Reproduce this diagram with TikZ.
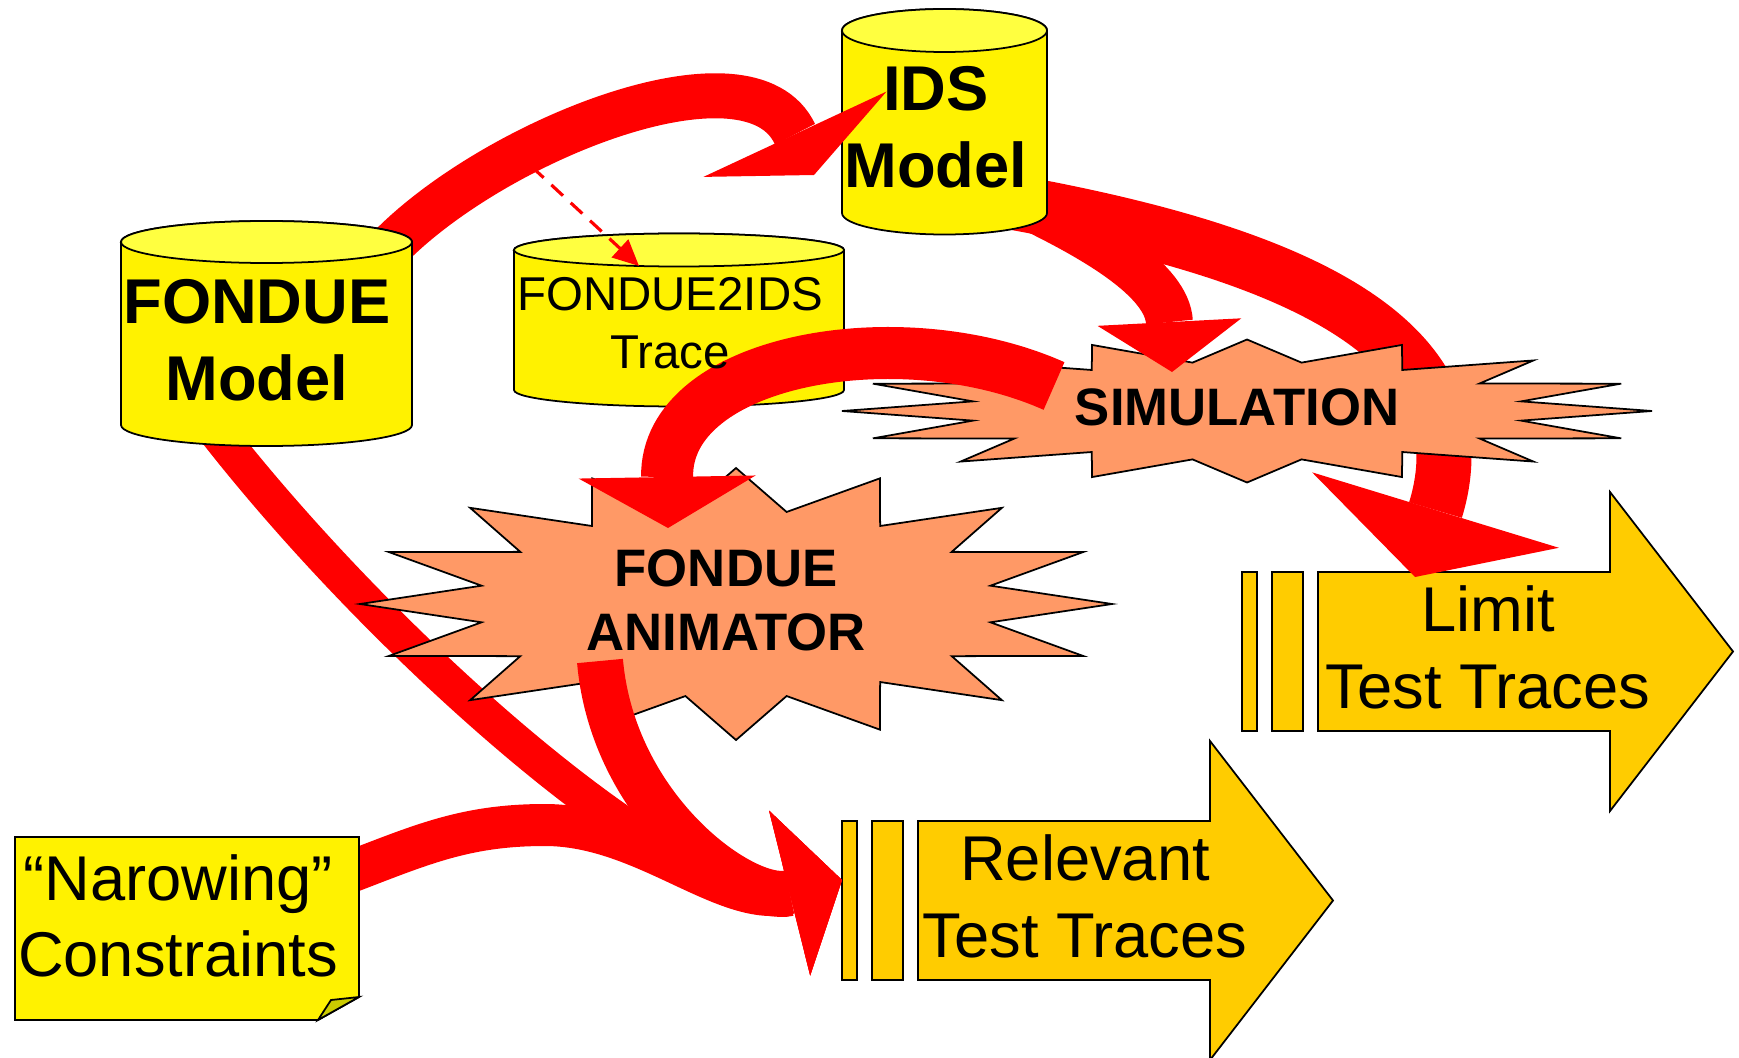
\documentclass[tikz,border=0pt]{standalone}
\usepackage{fontspec}
\setmainfont{Liberation Sans}
\usetikzlibrary{arrows.meta}

\definecolor{burst}{HTML}{FF9966}
\definecolor{tracegold}{HTML}{FFCC00}
\definecolor{drumtop}{HTML}{FFFF40}
\definecolor{notefold}{HTML}{CCCC00}

\tikzset{
  outline/.style={draw=black, line width=0.5pt},
  drum/.style={outline, fill=yellow},
  drumlid/.style={outline, fill=drumtop},
  burstshape/.style={outline, fill=burst},
  tracearrow/.style={outline, fill=tracegold},
  flow/.style={draw=red, line width=#1},
  modeltext/.style={align=center, inner sep=0pt, font=\fontsize{18pt}{22pt}\selectfont\bfseries},
  bursttext/.style={align=center, inner sep=0pt, font=\fontsize{15pt}{18.2pt}\selectfont\bfseries},
  tracetext/.style={align=center, inner sep=0pt, font=\fontsize{13.5pt}{16.5pt}\selectfont},
  plaintext/.style={align=center, inner sep=0pt, font=\fontsize{18pt}{21.8pt}\selectfont},
}

% drum: centre x, top y, bottom y, x radius, y radius
\newcommand{\dbdrum}[5]{%
  \draw[drum] ({#1-#4},#2) -- ({#1-#4},#3) arc[start angle=180, end angle=360, x radius=#4cm, y radius=#5cm]
    -- ({#1+#4},#2) arc[start angle=0, end angle=180, x radius=#4cm, y radius=#5cm] -- cycle;
  \draw[drumlid] (#1,#2) ellipse[x radius=#4cm, y radius=#5cm];
}
% 16 point burst: centre, x radius, y radius
\newcommand{\burstat}[3]{%
  \draw[burstshape, shift={#1}, xscale=#2, yscale=#3] (0:1)
    \foreach \k in {0,...,15} { -- ({22.5*\k+11.25}:0.69) -- ({22.5*\k+22.5}:1) } -- cycle;
}

\begin{document}
\begin{tikzpicture}
    \useasboundingbox (0,0) rectangle (17.39,-10.57);

    % connector ends
    \coordinate (fondueT) at (3.92,-2.45);
    \coordinate (fondueB) at (2.15,-4.30);
    \coordinate (idsIn) at (8.14,-1.75);
    \coordinate (idsR) at (10.0,-2.0);
    \coordinate (idsB) at (10.15,-2.0);
    \coordinate (simIn) at (11.72,-3.72);
    \coordinate (simL) at (10.54,-3.86);
    \coordinate (animIn) at (6.68,-5.28);
    \coordinate (animB) at (6.00,-6.61);
    \coordinate (limitIn) at (14.15,-5.77);
    \coordinate (narrowR) at (3.50,-8.72);
    \coordinate (narrowTop) at (5.45,-8.25);
    \coordinate (relIn) at (8.42,-8.80);
    \coordinate (dashFrom) at (5.32,-1.67);
    \coordinate (traceIn) at (6.39,-2.66);

    % test trace arrows
    \foreach \ox/\oy in {12.42/-5.72, 8.42/-8.21} {
        \draw[tracearrow] (\ox,\oy) rectangle ++(0.15,-1.59);
        \draw[tracearrow] ({\ox+0.30},\oy) rectangle ++(0.31,-1.59);
        \draw[tracearrow] ({\ox+0.76},\oy) -- ++(2.92,0) -- ++(0,0.80) -- ++(1.23,-1.595)
            -- ++(-1.23,-1.595) -- ++(0,0.80) -- ++(-2.92,0) -- cycle;
    }

    % flows under the bursts
    \draw[flow=0.55cm, -{Triangle[length=0.7cm, width=2.58cm, line width=0pt]}]
        (idsR) to[out=-10, in=73, looseness=1.2] (limitIn);
    \draw[flow=0.36cm, -{Triangle[length=0.54cm, width=1.7cm, line width=0pt]}]
        (fondueB) to[out=-52, in=194, out distance=3cm, in distance=1.5cm] (relIn);

    \burstat{(12.47,-4.11)}{4.05}{0.715}
    \burstat{(7.36,-6.04)}{3.76}{1.36}

    \draw[flow=0.47cm, -{Triangle[length=0.5cm, width=1.44cm, line width=0pt]}]
        (idsB) to[out=-25, in=93] (simIn);

    % data stores
    \dbdrum{9.445}{-0.305}{-2.13}{1.025}{0.215}
    \draw[flow=0.45cm, -{Triangle[length=0.45cm, width=2.02cm, line width=0pt]}]
        (fondueT) to[out=45, in=115, looseness=0.9] (idsIn);
    \dbdrum{2.665}{-2.42}{-4.25}{1.455}{0.21}
    \dbdrum{6.79}{-2.50}{-3.90}{1.65}{0.165}

    % flows over the bursts
    \draw[flow=0.52cm, -{Triangle[length=0.51cm, width=1.77cm, line width=0pt]}]
        (simL) to[out=156, in=91, looseness=1.05] (animIn);
    \draw[flow=0.46cm, -{Triangle[length=0.54cm, width=1.7cm, line width=0pt]}]
        (animB) to[out=-85, in=194, out distance=1.5cm, in distance=1cm] (relIn);
    \draw[flow=0.42cm, -{Triangle[length=0.54cm, width=1.7cm, line width=0pt]}]
        (narrowR) to[out=21, in=180] (narrowTop)
        to[out=0, in=194, out distance=1cm, in distance=1.2cm] (relIn);

    % constraints note
    \draw[drum] (0.15,-8.37) -- (3.59,-8.37) -- (3.59,-9.97) -- (3.18,-10.20) -- (0.15,-10.20) -- cycle;
    \draw[outline, fill=notefold] (3.59,-9.97) -- (3.31,-10.00) -- (3.18,-10.20) -- cycle;

    \draw[red, line width=0.9pt, dash pattern=on 4.5pt off 3pt, -{Triangle[length=0.26cm, width=0.24cm]}]
        (dashFrom) -- (traceIn);

    % labels
    \node[modeltext] (fondue) at (2.57,-3.40) {FONDUE\\Model};
    \node[modeltext] (ids) at (9.36,-1.27) {IDS\\Model};
    \node[tracetext] (trace) at (6.70,-3.235) {FONDUE2IDS\\Trace};
    \node[bursttext] (sim) at (12.37,-4.07) {SIMULATION};
    \node[bursttext] (anim) at (7.26,-6.005) {FONDUE\\ANIMATOR};
    \node[plaintext] (limit) at (14.88,-6.475) {Limit\\Test Traces};
    \node[plaintext] (relevant) at (10.85,-8.965) {Relevant\\Test Traces};
    \node[plaintext] (narrow) at (1.78,-9.16) {“Narowing”\\Constraints};
\end{tikzpicture}
\end{document}
